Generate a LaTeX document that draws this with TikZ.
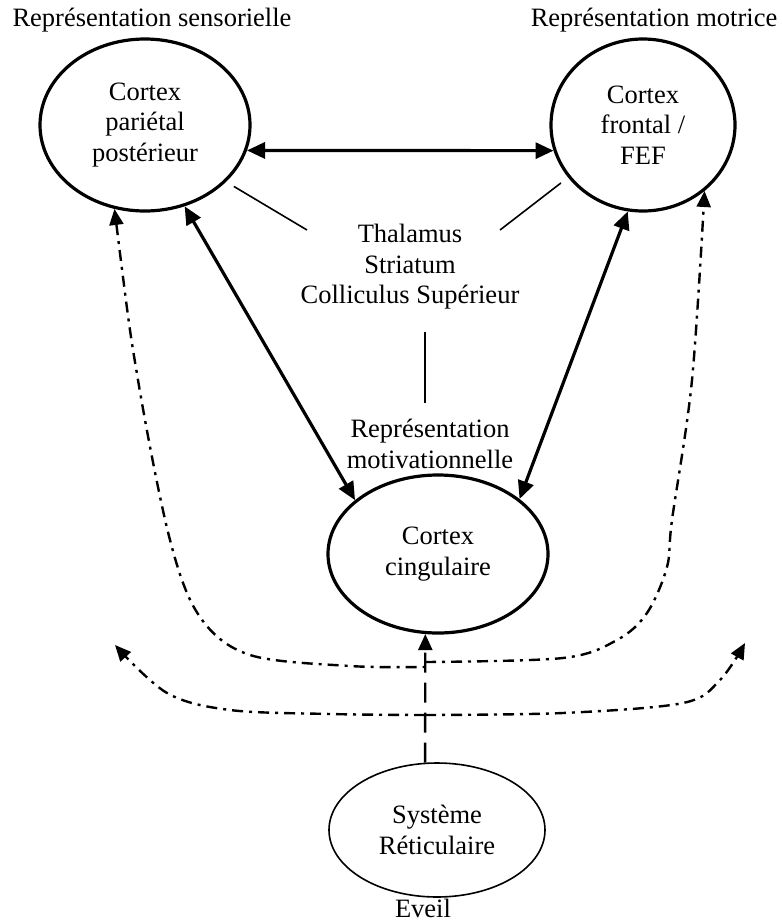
\documentclass[tikz,border=0pt]{standalone}
\usepackage{fontspec}
\setmainfont{Liberation Serif}
\usetikzlibrary{shapes.geometric,arrows.meta}
\tikzset{
  brain/.style={ellipse, draw, line width=3.2pt, inner sep=0pt, align=center},
  reti/.style={ellipse, draw, line width=1.6pt, inner sep=0pt, align=center},
  lbl/.style={align=center, inner sep=0pt},
  thickarrow/.style={line width=3.2pt, {Triangle[length=18pt,width=16pt]}-{Triangle[length=18pt,width=16pt]}},
  thinline/.style={line width=1.6pt},
  dashdot/.style={line width=2.4pt, dash pattern=on 11pt off 6pt on 3pt off 6pt},
  ddtip/.style={-{Triangle[length=16pt,width=14pt]}},
  dashline/.style={line width=2.4pt, dash pattern=on 20pt off 10pt, -{Triangle[length=16pt,width=14pt]}}
}
\begin{document}
\begin{tikzpicture}[x=1pt,y=-1pt, every node/.style={font=\fontsize{26.5}{30.5}\selectfont}]
\useasboundingbox (0,0) rectangle (782,924);

% nodes
\node[brain, minimum width=210pt, minimum height=172pt] (L) at (145,125) {Cortex\\pariétal\\postérieur};
\node[brain, minimum width=184pt, minimum height=172pt] (R) at (643,125) {Cortex\\frontal /\\FEF};
\node[brain, minimum width=220pt, minimum height=158pt] (C) at (438,554) {Cortex\\cingulaire};
\node[reti, minimum width=216pt, minimum height=134pt] (Ret) at (437,830) {Système\\Réticulaire};

\node[lbl] (sens) at (152,20) {Représentation sensorielle};
\node[lbl] (mot) at (654,20) {Représentation motrice};
\node[lbl] (M) at (410,267) {Thalamus\\Striatum\\Colliculus Supérieur};
\node[lbl] (Mot) at (430,444) {Représentation\\motivationnelle};
\node[lbl] (eveil) at (423,908) {Eveil};

% free ends
\coordinate (t1) at (307,230);
\coordinate (t2) at (500,230);
\coordinate (v1) at (425,332);
\coordinate (v2) at (425,403);
\coordinate (u1) at (425,667);
\coordinate (u2) at (425,662);
\coordinate (u3) at (425,715);
\coordinate (w1) at (115,645);
\coordinate (w2) at (745,643);

% connectors
\draw[thickarrow] (L.-14) -- (R.196);
\draw[thickarrow] (L.-64) -- (C.147);
\draw[thickarrow] (R.-100) -- (C.34);

\draw[thinline, shorten <=9pt] (L.-35) -- (t1);
\draw[thinline, shorten <=9pt] (R.-145) -- (t2);
\draw[thinline] (v1) -- (v2);

\draw[dashline] (Ret.100) -- (C.-99);

\draw[dashdot, {Triangle[length=16pt,width=14pt]}-] plot[smooth, tension=0.55] coordinates {(L.-110) (138,380) (170,540) (200,617) (250,655) (350,666) (u1)};
\draw[dashdot, ddtip] plot[smooth, tension=0.55] coordinates {(u2) (563,658) (617,640) (647,613) (667,567) (672,520) (692,380) (R.-47)};
\draw[dashdot, ddtip] plot[smooth, tension=0.55] coordinates {(u3) (330,714) (230,710) (167,693) (w1)};
\draw[dashdot, ddtip] plot[smooth, tension=0.55] coordinates {(u3) (563,713) (683,703) (720,680) (w2)};
\end{tikzpicture}
\end{document}
